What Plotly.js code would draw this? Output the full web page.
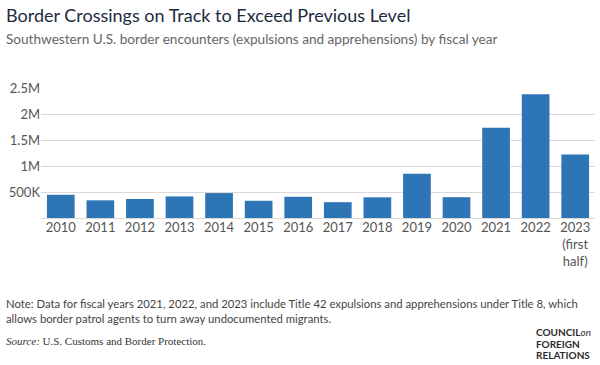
<!DOCTYPE html>
<html>
<head>
<meta charset="utf-8">
<script src="https://cdn.plot.ly/plotly-3.0.1.min.js"></script>
<style>html,body{margin:0;padding:0;background:#fff;}#chart{width:600px;height:365px;}</style>
</head>
<body>
<div id="chart"></div>
<script>
const years = ['2010','2011','2012','2013','2014','2015','2016','2017','2018','2019','2020','2021','2022','2023'];
const yearLabels = ['2010','2011','2012','2013','2014','2015','2016','2017','2018','2019','2020','2021','2022','2023<br>(first<br>half)'];
const encounters = [447000, 340000, 365000, 415000, 479000, 331000, 408000, 304000, 397000, 851000, 400000, 1734000, 2378000, 1220000];
const yTickVals = [0, 500000, 1000000, 1500000, 2000000, 2500000];
const yTickText = ['', '500K', '1M', '1.5M', '2M', '2.5M'];

const W = 600, H = 365;
const M = {l: 41, r: 5, t: 88, b: 147};
const px = x => (x - M.l) / (W - M.l - M.r);
const py = y => (H - M.b - y) / (H - M.t - M.b);

const trace = {
  type: 'bar',
  x: years,
  y: encounters,
  marker: {color: '#2e75b6'},
  hoverinfo: 'x+y'
};

const font = 'Lato, "Open Sans", sans-serif';

const logoLine = (text, y) => ({
  text: text, xref: 'paper', yref: 'paper', x: px(534), y: py(y),
  xanchor: 'left', yanchor: 'middle', showarrow: false,
  font: {family: font, size: 10, color: '#2b2b2b'}
});

const layout = {
  width: W, height: H,
  margin: M,
  paper_bgcolor: '#fff',
  plot_bgcolor: '#fff',
  bargap: 0.3,
  showlegend: false,
  font: {family: font, color: '#555', size: 12},
  xaxis: {
    type: 'category',
    tickmode: 'array',
    tickvals: years,
    ticktext: yearLabels,
    showgrid: false,
    showline: false,
    ticks: '',
    tickfont: {family: font, size: 13, color: '#555'},
    tickangle: 0
  },
  yaxis: {
    range: [0, 2500000],
    tickmode: 'array',
    tickvals: yTickVals,
    ticktext: yTickText,
    showgrid: true,
    gridcolor: '#d9d9d9',
    gridwidth: 1,
    zeroline: true,
    zerolinecolor: '#d9d9d9',
    zerolinewidth: 1,
    showline: false,
    ticks: '',
    tickfont: {family: font, size: 13, color: '#555'}
  },
  annotations: [
    {text: 'Border Crossings on Track to Exceed Previous Level', xref: 'paper', yref: 'paper',
     x: px(4), y: py(15), xanchor: 'left', yanchor: 'middle', showarrow: false,
     font: {family: font, size: 18, color: '#1c2b3f'}},
    {text: 'Southwestern U.S. border encounters (expulsions and apprehensions) by fiscal year', xref: 'paper', yref: 'paper',
     x: px(4), y: py(39), xanchor: 'left', yanchor: 'middle', showarrow: false,
     font: {family: font, size: 13.6, color: '#666'}},
    {text: 'Note: Data for fiscal years 2021, 2022, and 2023 include Title 42 expulsions and apprehensions under Title 8, which<br>allows border patrol agents to turn away undocumented migrants.', xref: 'paper', yref: 'paper',
     x: px(4), y: py(311), xanchor: 'left', yanchor: 'middle', align: 'left', showarrow: false,
     font: {family: font, size: 11.3, color: '#444'}},
    {text: '<i>Source:</i> U.S. Customs and Border Protection.', xref: 'paper', yref: 'paper',
     x: px(4), y: py(341), xanchor: 'left', yanchor: 'middle', showarrow: false,
     font: {family: '"Liberation Serif", serif', size: 11, color: '#333'}},
    logoLine('<b>COUNCIL</b><i>on</i>', 332),
    logoLine('<b>FOREIGN</b>', 343.5),
    logoLine('<b>RELATIONS</b>', 355)
  ]
};

Plotly.newPlot('chart', [trace], layout, {displayModeBar: false, staticPlot: true});
</script>
</body>
</html>
